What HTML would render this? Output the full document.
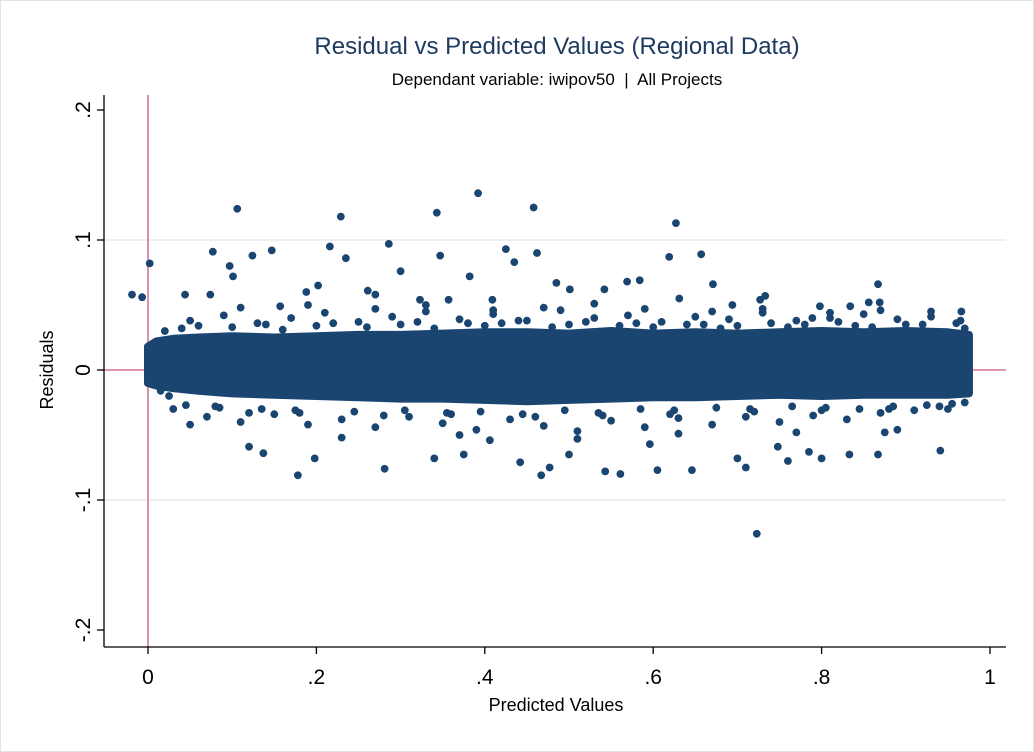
<!DOCTYPE html>
<html><head><meta charset="utf-8"><style>
body{margin:0;background:#fff;}
svg{display:block;font-family:"Liberation Sans",sans-serif;}
</style></head><body>
<svg id="chart" width="1034" height="752">
<rect x="0.5" y="0.5" width="1033" height="751" fill="#fff" stroke="#dde3e8"/>
<text x="557" y="54" font-size="24" fill="#1e3a5f" text-anchor="middle">Residual vs Predicted Values (Regional Data)</text>
<text x="557" y="85" font-size="17" fill="#000" text-anchor="middle">Dependant variable: iwipov50 &#160;|&#160; All Projects</text>
<g id="grid"></g><g id="refs"></g><g id="marks"></g><g id="axes"></g>
<text x="556" y="711" font-size="18" text-anchor="middle">Predicted Values</text>
<text transform="translate(53,370) rotate(-90)" font-size="18" text-anchor="middle">Residuals</text>
</svg>
<script>
const xTicks=[0,0.2,0.4,0.6,0.8,1];
const xTickLabels=["0",".2",".4",".6",".8","1"];
const yTicks=[-0.2,-0.1,0,0.1,0.2];
const yTickLabels=["-.2","-.1","0",".1",".2"];
const bandX=[0,0.01,0.03,0.06,0.1,0.15,0.2,0.25,0.3,0.35,0.4,0.45,0.5,0.55,0.6,0.65,0.7,0.75,0.8,0.85,0.9,0.95,0.975];
const bandUpper=[0.018,0.022,0.024,0.025,0.026,0.025,0.026,0.027,0.027,0.028,0.029,0.029,0.028,0.030,0.028,0.029,0.028,0.029,0.030,0.029,0.030,0.029,0.027];
const bandLower=[-0.010,-0.012,-0.014,-0.016,-0.018,-0.019,-0.020,-0.021,-0.022,-0.022,-0.023,-0.024,-0.023,-0.022,-0.021,-0.021,-0.020,-0.019,-0.020,-0.019,-0.019,-0.019,-0.018];
const ptX=[-0.019,-0.007,0.002,0.106,0.077,0.147,0.101,0.229,0.216,0.286,0.343,0.392,0.458,0.425,0.462,0.627,0.657,0.619,0.867,0.569,0.347,0.235,0.124,0.097,0.202,0.671,0.723,0.178,0.281,0.467,0.543,0.941,0.710,0.646,0.198,0.442,0.561,0.785,0.800,0.833,0.867,0.875,0.700,0.748,0.760,0.120,0.137,0.340,0.375,0.406,0.477,0.500,0.605,0.596,0.188,0.261,0.300,0.382,0.435,0.485,0.542,0.631,0.694,0.727,0.798,0.856,0.869,0.834,0.966,0.044,0.074,0.157,0.270,0.323,0.357,0.409,0.501,0.584,0.733,0.789,
0.05,0.09,0.13,0.17,0.21,0.25,0.29,0.33,0.37,0.41,0.45,0.49,0.53,0.57,0.61,0.65,0.69,0.73,0.77,0.81,0.85,0.89,0.93,0.96,
0.03,0.07,0.11,0.15,0.19,0.23,0.27,0.31,0.35,0.39,0.43,0.47,0.51,0.55,0.59,0.63,0.67,0.71,0.75,0.79,0.83,0.87,0.91,0.95,
0.06,0.14,0.22,0.32,0.38,0.44,0.52,0.58,0.66,0.74,0.82,0.9,0.08,0.18,0.28,0.36,0.46,0.54,0.62,0.72,0.80,0.88,0.94,0.12,
0.02,0.04,0.10,0.16,0.20,0.26,0.30,0.34,0.40,0.42,0.48,0.50,0.56,0.60,0.64,0.68,0.70,0.76,0.78,0.84,0.86,0.92,0.97,0.965,
0.025,0.045,0.085,0.135,0.175,0.245,0.305,0.355,0.395,0.445,0.495,0.535,0.585,0.625,0.675,0.715,0.765,0.805,0.845,0.885,0.925,0.955,0.97,0.015,
0.11,0.19,0.27,0.33,0.41,0.47,0.53,0.59,0.67,0.73,0.81,0.87,0.93,0.23,0.37,0.51,0.63,0.77,0.89,0.05];
const ptY=[0.058,0.056,0.082,0.124,0.091,0.092,0.072,0.118,0.095,0.097,0.121,0.136,0.125,0.093,0.090,0.113,0.089,0.087,0.066,0.068,0.088,0.086,0.088,0.080,0.065,0.066,-0.126,-0.081,-0.076,-0.081,-0.078,-0.062,-0.075,-0.077,-0.068,-0.071,-0.080,-0.063,-0.068,-0.065,-0.065,-0.048,-0.068,-0.059,-0.070,-0.059,-0.064,-0.068,-0.065,-0.054,-0.075,-0.065,-0.077,-0.057,0.060,0.061,0.076,0.072,0.083,0.067,0.062,0.055,0.050,0.054,0.049,0.052,0.052,0.049,0.045,0.058,0.058,0.049,0.058,0.054,0.054,0.054,0.062,0.069,0.057,0.040,
0.038,0.042,0.036,0.040,0.044,0.037,0.041,0.045,0.039,0.043,0.038,0.046,0.040,0.042,0.037,0.041,0.039,0.044,0.038,0.040,0.043,0.039,0.041,0.036,
-0.030,-0.036,-0.040,-0.034,-0.042,-0.038,-0.044,-0.036,-0.041,-0.046,-0.038,-0.043,-0.047,-0.039,-0.044,-0.037,-0.042,-0.036,-0.040,-0.035,-0.038,-0.033,-0.031,-0.030,
0.034,0.035,0.036,0.037,0.036,0.038,0.037,0.036,0.035,0.036,0.037,0.035,-0.028,-0.033,-0.035,-0.034,-0.036,-0.035,-0.034,-0.032,-0.031,-0.030,-0.028,-0.033,
0.030,0.032,0.033,0.031,0.034,0.033,0.035,0.032,0.034,0.036,0.033,0.035,0.034,0.033,0.035,0.032,0.034,0.033,0.035,0.034,0.033,0.035,0.032,0.038,
-0.020,-0.027,-0.029,-0.030,-0.031,-0.032,-0.031,-0.033,-0.032,-0.034,-0.031,-0.033,-0.030,-0.031,-0.029,-0.030,-0.028,-0.029,-0.030,-0.028,-0.027,-0.026,-0.025,-0.016,
0.048,0.050,0.047,0.050,0.046,0.048,0.051,0.047,0.045,0.047,0.044,0.046,0.045,-0.052,-0.050,-0.053,-0.049,-0.048,-0.046,-0.042];
const NS="http://www.w3.org/2000/svg";
const X0=148,X1=990,Y0=370,YS=1300;
function sx(v){return X0+(X1-X0)*v;}
function sy(v){return Y0-YS*v;}
function mk(tag,attrs,parent){const e=document.createElementNS(NS,tag);for(const k in attrs)e.setAttribute(k,attrs[k]);parent.appendChild(e);return e;}
const gridG=document.getElementById('grid'),refsG=document.getElementById('refs'),marksG=document.getElementById('marks'),axesG=document.getElementById('axes');
yTicks.forEach((t,i)=>{if(t!==0&&Math.abs(t)<0.15){const l=mk('line',{x1:104,x2:1006,y1:sy(t),y2:sy(t),stroke:'#e6ecef','stroke-width':1.5},gridG);

}});
const vr=mk('line',{x1:sx(0),x2:sx(0),y1:95,y2:647,stroke:'#c9577e','stroke-width':1.3},refsG);


const hr=mk('line',{x1:104,x2:1006,y1:sy(0),y2:sy(0),stroke:'#c9577e','stroke-width':1.3},refsG);


let upperPath='',lowerPath='';
bandX.forEach((x,i)=>{upperPath+=(i?'L':'M')+sx(x)+','+sy(bandUpper[i]);});
for(let i=bandX.length-1;i>=0;i--)lowerPath+='L'+sx(bandX[i])+','+sy(bandLower[i]);
const band=mk('path',{d:upperPath+lowerPath+'Z',fill:'#1a4570',stroke:'#1a4570','stroke-width':8,'stroke-linejoin':'round'},marksG);


ptX.forEach((x,i)=>{const c=mk('circle',{cx:sx(x),cy:sy(ptY[i]),r:3.9,fill:'#1a4570'},marksG);

});
const ya=mk('line',{x1:104,x2:104,y1:95,y2:647,stroke:'#000','stroke-width':1.3},axesG);


const xa=mk('line',{x1:104,x2:1006,y1:647,y2:647,stroke:'#000','stroke-width':1.3},axesG);


xTicks.forEach((t,i)=>{const tk=mk('line',{x1:sx(t),x2:sx(t),y1:647,y2:654,stroke:'#000','stroke-width':1.3},axesG);


const tx=mk('text',{x:sx(t),y:684,'font-size':21,'text-anchor':'middle'},axesG);tx.textContent=xTickLabels[i];

});
yTicks.forEach((t,i)=>{const tk=mk('line',{x1:97,x2:104,y1:sy(t),y2:sy(t),stroke:'#000','stroke-width':1.3},axesG);


const tx=mk('text',{transform:'translate(90,'+sy(t)+') rotate(-90)','font-size':21,'text-anchor':'middle'},axesG);tx.textContent=yTickLabels[i];

});
</script>
</body></html>
